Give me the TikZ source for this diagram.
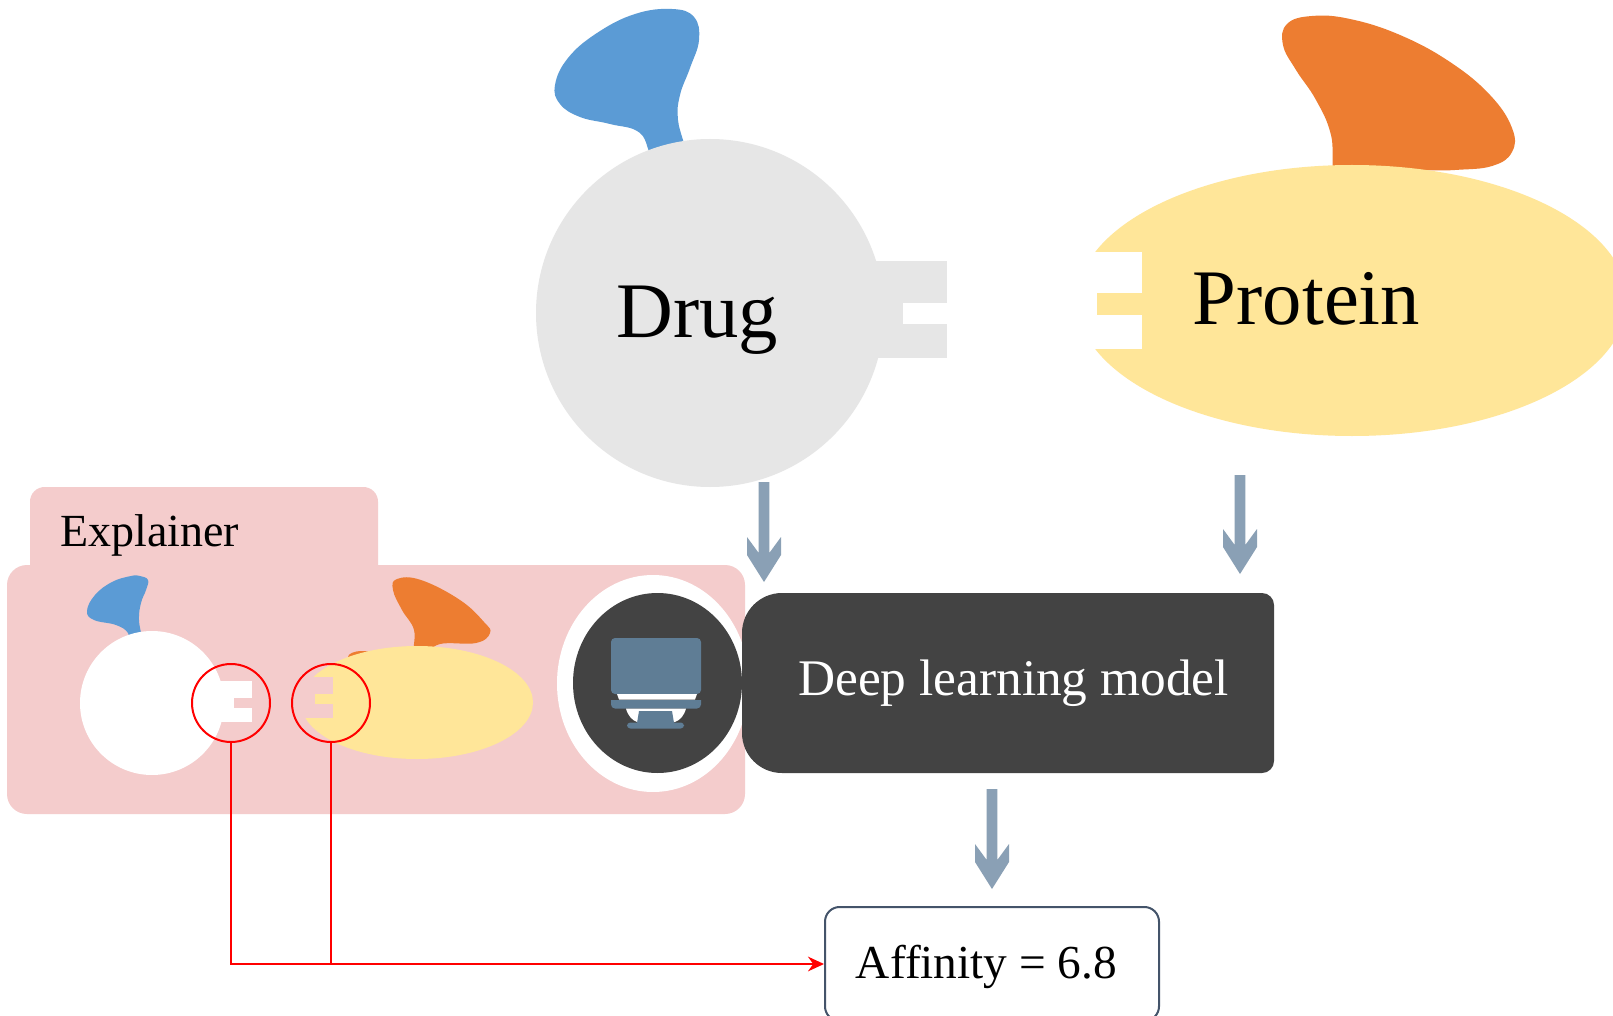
\documentclass[tikz,border=0pt]{standalone}
\usepackage{fontspec}
\setmainfont{Liberation Serif}
\usetikzlibrary{shapes.geometric,arrows.meta,calc}

\definecolor{drugGray}{HTML}{E6E6E6}
\definecolor{blobBlue}{HTML}{5B9BD5}
\definecolor{blobOrange}{HTML}{ED7D31}
\definecolor{protYellow}{HTML}{FFE699}
\definecolor{panelPink}{HTML}{F4CCCC}
\definecolor{flowGray}{HTML}{8AA0B5}
\definecolor{modelDark}{HTML}{434343}
\definecolor{monitorBlue}{HTML}{5F7D95}
\definecolor{boxEdge}{HTML}{44546A}
\definecolor{linkRed}{HTML}{FF0000}

% block arrow from a start coordinate down to a tip coordinate (same x)
\newcommand{\fatarrow}[2]{%
  \fill[flowGray] ($(#1)+(-5.3,0)$) -- ($(#2)+(-5.3,-29)$) -- ($(#2)+(-17,-45)$)
    -- ($(#2)+(-17,-27)$) -- (#2) -- ($(#2)+(17,-27)$) -- ($(#2)+(17,-45)$)
    -- ($(#2)+(5.3,-29)$) -- ($(#1)+(5.3,0)$) -- cycle;}

\tikzset{
  shapenode/.style={inner sep=0pt, outer sep=0pt},
  bigword/.style={inner sep=0pt, anchor=base, font=\fontsize{59pt}{62pt}\selectfont},
  redring/.style={circle, shapenode, draw=linkRed, line width=1.5pt, minimum size=58.5pt},
  redline/.style={draw=linkRed, line width=1.5pt},
}

\begin{document}
\begin{tikzpicture}[x=0.75pt, y=-0.75pt]
\useasboundingbox (0,0) rectangle (1613,1016);
\clip (0,0) rectangle (1613,1016);
\fill[white] (0,0) rectangle (1613,1016);

% ---------------- drug ----------------
\fill[blobBlue] plot[smooth cycle, tension=0.7] coordinates {
  (685,160) (678,120) (680,95) (690,68) (699,40) (694,17) (672,9) (635,14)
  (597,33) (568,58) (555,85) (560,104) (580,117) (610,124) (640,133) (655,160)};
\node[circle, shapenode, fill=drugGray, minimum size=261pt] (drug) at (710,313) {};
\fill[drugGray] (850,261) rectangle (947,358);
\fill[white] (903,303) rectangle (948,324);
\node[bigword] (druglabel) at (697.5,337) {Drug};

% ---------------- protein ----------------
\fill[blobOrange] plot[smooth cycle, tension=0.7] coordinates {
  (1338,185) (1331,135) (1316,100) (1296,70) (1283,45) (1287,24) (1312,16)
  (1350,19) (1400,35) (1450,62) (1490,95) (1512,128) (1512,152) (1492,166)
  (1455,170) (1410,172) (1380,185)};
\node[ellipse, shapenode, fill=protYellow, minimum width=412.5pt, minimum height=203.25pt]
  (protein) at (1352,300.5) {};
\fill[white] (1068,252) rectangle (1142,349);
\fill[protYellow] (1097,293) rectangle (1143,315);
\node[bigword] (proteinlabel) at (1306.5,325) {Protein};

% ---------------- explainer panel ----------------
\fill[panelPink, rounded corners=11pt] (30,487) rectangle (378,600);
\fill[panelPink, rounded corners=15pt] (7,565) rectangle (745,814);
\node[inner sep=0pt, anchor=base west, font=\fontsize{34.5pt}{37pt}\selectfont]
  (explainer) at (60,546) {Explainer};

% small drug
\fill[blobBlue] plot[smooth cycle, tension=0.7] coordinates {
  (142,645) (139,620) (141,603) (146,590) (148,580) (140,576) (131,576)
  (112,582) (95,595) (87,611) (94,620) (116,625) (128,633) (130,645)};
\node[circle, shapenode, fill=white, minimum size=108pt] (minidrug) at (152,703) {};
\fill[white] (200,681) rectangle (252,722);
\fill[panelPink] (234,698) rectangle (253,708);

% small protein
\fill[blobOrange] plot[smooth cycle, tension=0.7] coordinates {
  (414,655) (414,630) (402,610) (393,590) (397,579) (421,580) (460,600)
  (484,622) (490,633) (476,643) (440,644) (426,655)};
\fill[blobOrange] (362,657) ellipse [x radius=14, y radius=6];
\node[ellipse, shapenode, fill=protYellow, minimum width=174pt, minimum height=84.75pt]
  (miniprot) at (417,702.5) {};
\fill[panelPink] (298,677) rectangle (333,718);
\fill[protYellow] (315,694) rectangle (334,704);

% highlighted binding sites
\node[redring] (rc1) at (231,703) {};
\node[redring] (rc2) at (331,703) {};

% model icon
\node[ellipse, shapenode, fill=white, minimum width=144pt, minimum height=162.75pt]
  (iconring) at (653,683.5) {};
\node[ellipse, shapenode, fill=modelDark, minimum width=126.75pt, minimum height=135pt]
  (icondisc) at (657.5,683) {};

% ---------------- deep learning model ----------------
\node[rectangle, shapenode, minimum width=399pt, minimum height=135pt] (dl) at (1008,683) {};
\fill[modelDark] (dl.south) [rounded corners=9pt] -- (dl.south east) -- (dl.north east)
  -- (dl.north) [rounded corners=30pt] -- (dl.north west) -- (dl.south west) -- cycle;
\node[inner sep=0pt, anchor=base, text=white, font=\fontsize{38.5pt}{41pt}\selectfont]
  (dllabel) at (1013.5,695) {Deep learning model};

% monitor glyph on the icon
\fill[monitorBlue, rounded corners=3pt] (611,638) rectangle (701,694);
\fill[white] (617,694) -- (697,694) -- (695,699.5) -- (619,699.5) -- cycle;
\fill[monitorBlue] (611,700) [rounded corners=3pt] -- (611,708.5) -- (701,708.5)
  [sharp corners] -- (701,700) -- cycle;
\fill[white] (626,708.5) -- (686,708.5) .. controls (684,716) and (680,720) .. (675,722)
  -- (637,722) .. controls (632,720) and (628,716) .. (626,708.5) -- cycle;
\fill[monitorBlue] (639,711) -- (672,711) -- (674,723) -- (637,723) -- cycle;
\fill[monitorBlue, rounded corners=2.5pt] (627,722.5) rectangle (684,728.5);

% ---------------- affinity ----------------
\node[rectangle, rounded corners=11pt, draw=boxEdge, line width=1.5pt, fill=white,
  minimum width=250.5pt, minimum height=85.5pt, inner sep=0pt] (aff) at (992,964) {};
\node[inner sep=0pt, anchor=base, font=\fontsize{35.5pt}{38pt}\selectfont]
  (afflabel) at (986.5,978) {Affinity = 6.8};

% ---------------- flow arrows ----------------
\coordinate (drugout) at (764,482);
\coordinate (dlinA) at ($(drugout |- dl.north)+(0,-11)$);
\coordinate (protout) at (1240,475);
\coordinate (dlinB) at ($(protout |- dl.north)+(0,-19)$);
\coordinate (dlout) at (992,789);
\coordinate (affin) at ($(dlout |- aff.north)+(0,-17)$);
\fatarrow{drugout}{dlinA}
\fatarrow{protout}{dlinB}
\fatarrow{dlout}{affin}

% explanation links
\draw[redline, -{Stealth[length=12pt, width=11pt]}] (rc1.south) |- (aff.west);
\draw[redline] (rc2.south) -- (rc2.south |- aff.west);
\end{tikzpicture}
\end{document}
